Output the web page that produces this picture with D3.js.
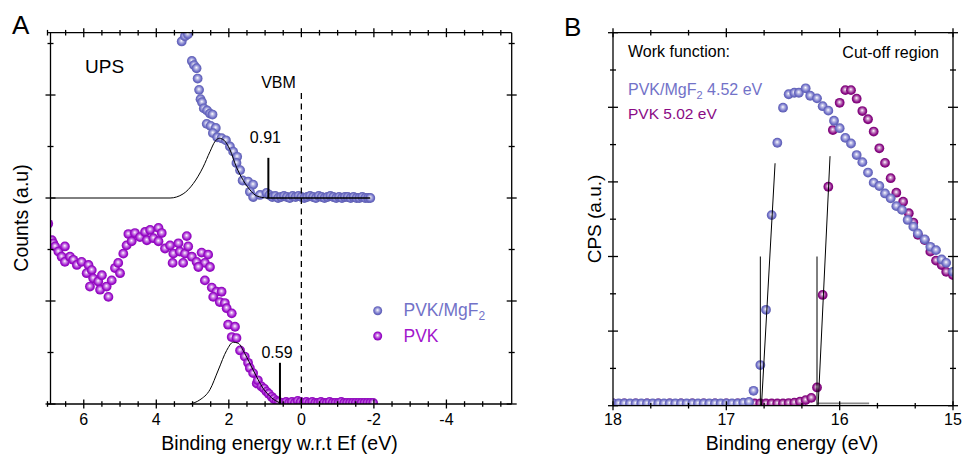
<!DOCTYPE html>
<html>
<head>
<meta charset="utf-8">
<script src="https://cdn.jsdelivr.net/npm/d3@7"></script>
<style>
body{margin:0;background:#fff;}
svg{font-family:"Liberation Sans",Arial,sans-serif;}
</style>
</head>
<body>
<svg id="chart" width="966" height="461"></svg>
<script>
// ---- panel A : UPS valence band ----
const mgEv = [3.30,3.21,3.13,3.02,2.96,2.89,2.86,2.82,2.78,2.74,2.69,2.60,2.52,2.45,2.61,2.50,2.36,2.44,2.32,2.20,2.08,1.97,1.88,1.77,1.79,1.69,1.62,1.47,1.33,1.42,1.33,1.14,0.96,
  0.88,0.80,0.72,0.64,0.56,0.48,0.40,0.32,0.24,0.16,0.08,0.00,-0.08,-0.16,-0.24,-0.32,-0.40,-0.48,-0.56,-0.64,-0.72,-0.80,-0.88,-0.96,-1.04,-1.12,-1.20,-1.28,-1.36,-1.44,-1.52,-1.60,-1.68,-1.76,-1.84,-1.90];
const mgVal = [3.52,3.57,3.59,3.33,3.29,3.26,3.16,3.05,2.96,2.93,2.87,2.85,2.82,2.81,2.72,2.70,2.68,2.63,2.59,2.58,2.56,2.50,2.45,2.40,2.34,2.27,2.17,2.16,2.13,2.06,2.01,2.03,2.05,
  2.03,2.01,2.02,2.00,2.01,2.02,2.01,2.00,2.02,2.01,2.02,2.01,2.00,2.01,2.02,2.01,2.00,2.02,2.01,2.00,2.01,2.02,2.01,2.00,2.01,2.00,2.01,2.01,2.00,2.01,2.00,2.00,2.01,2.00,2.00,2.00];

const pvkEv = [6.98,6.88,6.84,6.79,6.70,6.52,6.61,6.52,6.38,6.29,6.19,6.06,5.87,5.92,5.78,5.74,5.83,5.60,5.50,5.55,5.37,5.32,5.23,5.14,5.05,5.00,4.91,4.82,4.77,4.68,4.59,4.45,4.31,4.26,4.17,4.08,3.94,3.85,3.94,3.76,3.62,3.53,3.39,3.35,3.16,3.21,3.12,3.55,3.26,3.02,2.89,2.75,2.57,2.66,2.52,2.84,2.66,2.47,2.34,2.20,2.43,2.25,2.11,2.06,1.92,2.02,1.83,1.92,1.79,1.69,1.56,1.47,1.42,1.33,1.23,1.20,1.10,1.03,0.96,0.90,0.82,0.76,0.68,0.62,0.50,
  0.42,0.34,0.26,0.18,0.10,0.02,-0.06,-0.14,-0.22,-0.30,-0.38,-0.46,-0.54,-0.62,-0.70,-0.78,-0.86,-0.94,-1.02,-1.10,-1.18,-1.26,-1.34,-1.42,-1.50,-1.58,-1.66,-1.74,-1.82,-1.90,-1.98];
const pvkVal = [1.75,1.59,1.56,1.53,1.48,1.53,1.43,1.38,1.43,1.40,1.35,1.38,1.35,1.27,1.30,1.22,1.14,1.19,1.25,1.11,1.14,1.04,1.20,1.32,1.37,1.27,1.46,1.54,1.65,1.58,1.66,1.62,1.67,1.59,1.69,1.61,1.71,1.66,1.58,1.51,1.54,1.46,1.56,1.48,1.63,1.46,1.53,1.37,1.37,1.43,1.38,1.47,1.45,1.37,1.33,1.33,1.20,1.13,1.09,1.09,1.04,0.99,0.98,0.93,0.88,0.77,0.75,0.65,0.64,0.52,0.46,0.40,0.35,0.30,0.20,0.23,0.17,0.15,0.12,0.10,0.07,0.05,0.03,0.02,0.01,
  0.02,0.01,0.02,0.01,0.03,0.02,0.01,0.02,0.01,0.02,0.01,0.01,0.02,0.01,0.01,0.02,0.01,0.01,0.01,0.02,0.01,0.01,0.01,0.01,0.01,0.01,0.01,0.01,0.01,0.01,0.01];

// gaussian fits
const mgFitEv  = [7.0,3.62,3.26,2.98,2.71,2.52,2.38,2.26,2.13,1.97,1.79,1.60,1.42,1.23,0.96];
const mgFitVal = [2.0,2.0,2.04,2.14,2.30,2.45,2.55,2.58,2.56,2.47,2.30,2.17,2.08,2.02,2.0];
const mgBaseEv = [0.96,-1.90];
const pvkFitEv  = [3.07,2.80,2.52,2.29,2.06,1.88,1.74,1.56,1.33,1.05,0.82,0.59];
const pvkFitVal = [0.0,0.04,0.14,0.33,0.52,0.60,0.59,0.49,0.33,0.15,0.06,0.01];

const vbmMarks = [{ev:0.91, base:2.0, top:2.39, label:"0.91", ly:2.53}, {ev:0.59, base:0.0, top:0.40, label:"0.59", ly:0.45}];
const xTickLabelsA = [6,4,2,0,-2,-4];

// ---- panel B : secondary electron cut-off ----
const cutMgEv = [18.00,17.95,17.90,17.85,17.80,17.75,17.70,17.65,17.60,17.55,17.50,17.45,17.40,17.35,17.30,17.25,17.20,17.15,17.10,17.05,17.00,16.95,16.90,16.85,16.80,
  16.76,16.70,16.65,16.60,16.55,16.50,16.45,16.40,16.36,16.30,16.26,16.20,16.15,16.10,16.05,16.00,15.95,15.90,15.85,15.80,15.75,15.70,15.65,15.60,15.55,15.50,15.45,15.40,15.35,15.31,15.25,15.20,15.15,15.10,15.06,15.00];
const cutMgVal = [0.06,0.06,0.06,0.06,0.06,0.06,0.06,0.06,0.06,0.06,0.06,0.06,0.06,0.06,0.06,0.06,0.06,0.06,0.06,0.06,0.06,0.06,0.06,0.08,0.10,
  0.40,1.09,2.57,5.11,7.05,7.99,8.35,8.39,8.39,8.51,8.31,8.24,8.03,7.91,7.64,7.44,7.18,7.03,6.72,6.53,6.25,5.98,5.89,5.69,5.56,5.35,5.25,4.98,4.80,4.62,4.46,4.26,4.17,3.92,3.83,3.59];
const cutPvkEv = [18.00,17.90,17.80,17.70,17.60,17.50,17.40,17.30,17.20,17.10,17.00,16.90,16.80,16.75,16.70,16.65,16.60,16.55,16.50,16.45,16.40,16.35,16.30,16.25,16.20,16.15,16.10,16.06,16.00,15.95,15.90,15.85,15.80,15.75,15.70,15.65,15.60,15.55,15.50,15.44,15.39,15.35,15.31,15.25,15.20,15.15,15.10,15.06,15.00];
const cutPvkVal = [0.06,0.06,0.06,0.06,0.06,0.06,0.06,0.06,0.06,0.06,0.06,0.06,0.06,0.06,0.06,0.06,0.06,0.06,0.06,0.07,0.08,0.11,0.15,0.21,0.49,2.97,5.87,7.39,8.12,8.46,8.46,8.23,7.90,7.68,7.35,6.90,6.51,6.10,5.71,5.47,5.16,4.91,4.58,4.44,4.13,3.89,3.77,3.59,3.50];

// linear extrapolations of the onset
const tangents = [{ev0:16.69, ev1:16.57, v1:6.50, cut:16.70}, {ev0:16.19, ev1:16.085, v1:6.69, cut:16.20}];
const xTickLabelsB = [18,17,16,15];

const blue = "#6b6bc6", magenta = "#9b0ccb", plum = "#8a0a85";

const svg = d3.select("#chart");
const defs = svg.append("defs");

function sphere(id, color){
  const g = defs.append("radialGradient").attr("id", id)
    .attr("cx","50%").attr("cy","50%").attr("r","55%").attr("fx","48%").attr("fy","42%");
  g.append("stop").attr("offset","0%").attr("stop-color","#ffffff");
  g.append("stop").attr("offset","28%").attr("stop-color", d3.interpolateRgb(color,"#fff")(0.55));
  g.append("stop").attr("offset","70%").attr("stop-color", color);
  g.append("stop").attr("offset","100%").attr("stop-color", d3.color(color).darker(0.5));
}
sphere("gBlue", blue);
sphere("gMag", magenta);
sphere("gPlum", plum);

// draws a box with crossing ticks on all four sides
function frame(x, y, xt, xMajor, yt, yMajor, leftX){
  const g = svg.append("g").attr("stroke","#000").attr("stroke-width",1.3);
  const [x0,x1] = x.range(), [y0,y1] = y.range();
  const lx = leftX || x0;
  g.append("line").attr("x1",x0).attr("x2",x1).attr("y1",y0).attr("y2",y0);
  g.append("line").attr("x1",x0).attr("x2",x1).attr("y1",y1).attr("y2",y1);
  g.append("line").attr("x1",lx).attr("x2",lx).attr("y1",y0).attr("y2",y1);
  g.append("line").attr("x1",x1).attr("x2",x1).attr("y1",y0).attr("y2",y1);
  xt.forEach(v => {
    const L = xMajor(v) ? 4.5 : 2.8, px = x(v);
    [y0,y1].forEach(yy => g.append("line").attr("x1",px).attr("x2",px).attr("y1",yy-L).attr("y2",yy+L));
  });
  yt.forEach(v => {
    const L = yMajor(v) ? 5 : 3, py = y(v);
    [lx,x1].forEach(xx => g.append("line").attr("x1",xx-L).attr("x2",xx+L).attr("y1",py).attr("y2",py));
  });
}

function dots(g, x, y, xs, ys, grad, r){
  g.selectAll(null).data(xs.map((d,i)=>[d,ys[i]])).join("circle")
    .attr("cx", d=>x(d[0])).attr("cy", d=>y(d[1])).attr("r", r || 4.9)
    .attr("fill", `url(#${grad})`);
}

// ================= panel A =================
const xA = d3.scaleLinear().domain([7,-5.8]).range([47.5,511.7]);
const yA = d3.scaleLinear().domain([0,3.605]).range([404,32.7]);

defs.append("clipPath").attr("id","clipA").append("rect")
  .attr("x",50.5).attr("y",32.7).attr("width",511.7-50.5).attr("height",404-32.7);

const gA = svg.append("g").attr("clip-path","url(#clipA)");
dots(gA, xA, yA, pvkEv, pvkVal, "gMag");
dots(gA, xA, yA, mgEv, mgVal, "gBlue");

const lineA = d3.line().x(d=>xA(d[0])).y(d=>yA(d[1])).curve(d3.curveMonotoneX);
gA.append("path").attr("d", lineA(mgFitEv.map((d,i)=>[d,mgFitVal[i]])))
  .attr("fill","none").attr("stroke","#000").attr("stroke-width",1);
gA.append("path").attr("d", lineA(pvkFitEv.map((d,i)=>[d,pvkFitVal[i]])))
  .attr("fill","none").attr("stroke","#000").attr("stroke-width",1);
gA.append("line").attr("x1",xA(mgBaseEv[0])).attr("x2",xA(mgBaseEv[1]))
  .attr("y1",yA(2.0)).attr("y2",yA(2.0)).attr("stroke","#000").attr("stroke-width",1.6);

// VBM dashed line
svg.append("line").attr("x1",xA(0)).attr("x2",xA(0)).attr("y1",93).attr("y2",yA(0))
  .attr("stroke","#000").attr("stroke-width",1.3).attr("stroke-dasharray","6,4.5");

vbmMarks.forEach(m => {
  svg.append("line").attr("x1",xA(m.ev)).attr("x2",xA(m.ev)).attr("y1",yA(m.base)).attr("y2",yA(m.top))
    .attr("stroke","#000").attr("stroke-width",2);
  svg.append("text").attr("x",xA(m.ev)-3).attr("y",yA(m.ly)).attr("text-anchor","middle")
    .attr("font-size",16).text(m.label);
});

frame(xA, yA, d3.range(-11,15).map(i=>i/2), v=>v%2===0, d3.range(0,8).map(i=>i/2), v=>Number.isInteger(v), 50.5);

svg.append("g").selectAll("text").data(xTickLabelsA).join("text")
  .attr("x", d=>xA(d)).attr("y",425).attr("text-anchor","middle").attr("font-size",16)
  .text(d=>String(d));

svg.append("text").attr("x",279.5).attr("y",450).attr("text-anchor","middle").attr("font-size",19.5)
  .text("Binding energy w.r.t Ef (eV)");
svg.append("text").attr("transform","translate(28,218) rotate(-90)").attr("text-anchor","middle")
  .attr("font-size",19.5).text("Counts (a.u)");
svg.append("text").attr("x",12).attr("y",34).attr("font-size",26).text("A");
svg.append("text").attr("x",85).attr("y",73).attr("font-size",19).text("UPS");
svg.append("text").attr("x",278.5).attr("y",88).attr("text-anchor","middle").attr("font-size",16).text("VBM");

// legend A
const legA = [{name:"PVK/MgF", sub:"2", grad:"gBlue", col:"#7272c8", y:310.7},
              {name:"PVK", sub:"", grad:"gMag", col:"#a216cc", y:336}];
legA.forEach(l => {
  svg.append("circle").attr("cx",377.7).attr("cy",l.y).attr("r",4.5).attr("fill",`url(#${l.grad})`);
  const t = svg.append("text").attr("x",403.5).attr("y",l.y+5.5).attr("font-size",17.5).attr("fill",l.col).text(l.name);
  if (l.sub) t.append("tspan").attr("font-size",12).attr("dy",4).text(l.sub);
});

// ================= panel B =================
const xB = d3.scaleLinear().domain([18,15]).range([613,953]);
const yB = d3.scaleLinear().domain([0,10]).range([405.7,32.7]);

defs.append("clipPath").attr("id","clipB").append("rect")
  .attr("x",613).attr("y",32.7).attr("width",340).attr("height",373);

const gB = svg.append("g").attr("clip-path","url(#clipB)");
dots(gB, xB, yB, cutPvkEv, cutPvkVal, "gPlum");
dots(gB, xB, yB, cutMgEv, cutMgVal, "gBlue");

gB.append("line").attr("x1",xB(16.2)).attr("x2",xB(15.74)).attr("y1",yB(0.06)).attr("y2",yB(0.06))
  .attr("stroke","#888").attr("stroke-width",1.8);
tangents.forEach(t => {
  gB.append("line").attr("x1",xB(t.ev0)).attr("x2",xB(t.ev1)).attr("y1",yB(0)).attr("y2",yB(t.v1))
    .attr("stroke","#000").attr("stroke-width",1);
  gB.append("line").attr("x1",xB(t.cut)).attr("x2",xB(t.cut)).attr("y1",yB(0)).attr("y2",yB(4.0))
    .attr("stroke","#000").attr("stroke-width",1);
});

frame(xB, yB, d3.range(0,10).map(i=>18-i/3), v=>Math.abs(v-Math.round(v))<1e-6, d3.range(0,11), v=>v%2===0);

svg.append("g").selectAll("text").data(xTickLabelsB).join("text")
  .attr("x", d=>xB(d)).attr("y",425).attr("text-anchor","middle").attr("font-size",16)
  .text(d=>String(d));

svg.append("text").attr("x",792).attr("y",450).attr("text-anchor","middle").attr("font-size",19.5)
  .text("Binding energy (eV)");
svg.append("text").attr("transform","translate(601,219) rotate(-90)").attr("text-anchor","middle")
  .attr("font-size",19).text("CPS (a.u.)");
svg.append("text").attr("x",564).attr("y",36).attr("font-size",26).text("B");
svg.append("text").attr("x",628).attr("y",57).attr("font-size",16).text("Work function:");
svg.append("text").attr("x",939).attr("y",58).attr("text-anchor","end").attr("font-size",16).text("Cut-off region");
const wf1 = svg.append("text").attr("x",628).attr("y",95).attr("font-size",16).attr("fill","#7272c8").text("PVK/MgF");
wf1.append("tspan").attr("font-size",11).attr("dy",3.5).text("2");
wf1.append("tspan").attr("dy",-3.5).text(" 4.52 eV");
svg.append("text").attr("x",628).attr("y",119).attr("font-size",15.5).attr("fill",plum).text("PVK 5.02 eV");
</script>
</body>
</html>
